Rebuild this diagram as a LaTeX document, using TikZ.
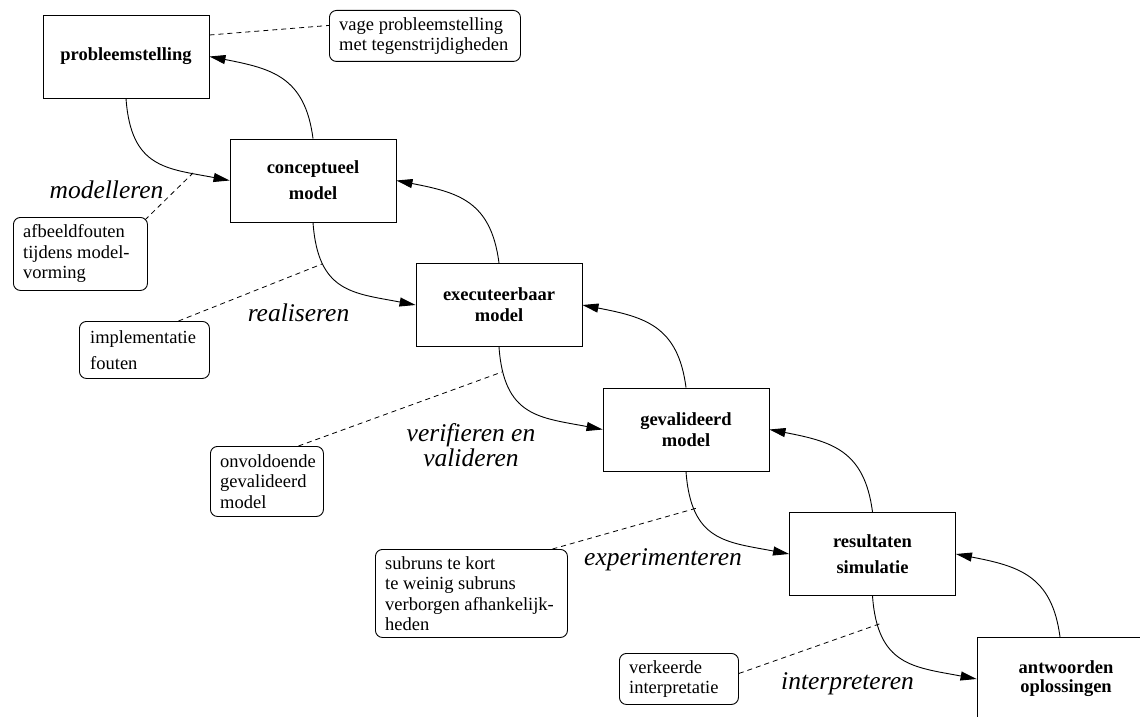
\documentclass[tikz,border=0pt]{standalone}
\usepackage{fontspec}
\setmainfont{Liberation Serif}
\usetikzlibrary{arrows.meta}
\begin{document}
\begin{tikzpicture}[x=1pt,y=-1pt,
  box/.style={draw, line width=0.9pt, minimum width=166pt, minimum height=83pt,
    inner sep=0pt, align=center, font=\fontsize{18.5}{21}\selectfont\bfseries},
  note/.style={draw, rounded corners=7pt, line width=0.9pt, inner sep=0pt, anchor=north west},
  notetext/.style={inner sep=0pt, align=left, anchor=west, font=\fontsize{18.5}{20.5}\selectfont},
  lbl/.style={inner sep=0pt, align=center, font=\fontsize{25.5}{25}\selectfont\itshape},
  flow/.style={line width=0.9pt, -{Triangle[length=16pt,width=9pt]}},
  link/.style={line width=0.8pt, dash pattern=on 5pt off 4pt}]
\useasboundingbox (0,0) rectangle (1140,717);
\clip (0,0) rectangle (1140,717);
\fill[white] (0,0) rectangle (1140,717);

% main boxes
\node[box] (b1) at (126,56.5) {probleemstelling};
\node[box] (b2) at (313,180.5) {conceptueel\\[5pt]model};
\node[box] (b3) at (499,305) {executeerbaar\\model};
\node[box] (b4) at (686,429.5) {gevalideerd\\model};
\node[box] (b5) at (872.5,554) {resultaten\\[5pt]simulatie};
\node[box, minimum width=178pt] (b6) at (1066,679) {antwoorden\\[-2pt]oplossingen};

% forward arrows
\draw[flow] (b1.south) .. controls +(5,70) and +(-63,-12) .. (b2.west);
\draw[flow] (b2.south) .. controls +(5,70) and +(-63,-12) .. (b3.west);
\draw[flow] (b3.south) .. controls +(5,70) and +(-63,-12) .. (b4.west);
\draw[flow] (b4.south) .. controls +(5,70) and +(-63,-12) .. (b5.west);
\draw[flow] (b5.south) .. controls +(5,70) and +(-63,-12) .. (b6.west);

% backward arrows
\draw[flow] (b2.north) .. controls +(-8,-62) and +(62,12) .. (b1.east);
\draw[flow] (b3.north) .. controls +(-8,-62) and +(62,12) .. (b2.east);
\draw[flow] (b4.north) .. controls +(-8,-62) and +(62,12) .. (b3.east);
\draw[flow] (b5.north) .. controls +(-8,-62) and +(62,12) .. (b4.east);
\draw[flow] ([xshift=-6pt]b6.north) .. controls +(-8,-62) and +(62,12) .. (b5.east);

% process labels
\node[lbl] (l1) at (106.5,190) {modelleren};
\node[lbl] (l2) at (298.5,313) {realiseren};
\node[lbl] (l3) at (471,445.5) {verifieren en\\valideren};
\node[lbl] (l4) at (663,560) {experimenteren};
\node[lbl] (l5) at (847.5,684) {interpreteren};

% notes
\node[note, minimum width=191pt, minimum height=51pt] (n1) at (329,10) {};
\node[notetext] (t1) at ([xshift=10pt]n1.west) {vage probleemstelling\\met tegenstrijdigheden};
\node[note, minimum width=134pt, minimum height=73pt] (n2) at (13,217) {};
\node[notetext] (t2) at ([xshift=10pt]n2.west) {afbeeldfouten\\tijdens model-\\vorming};
\node[note, minimum width=130pt, minimum height=57pt] (n3) at (79,321) {};
\node[notetext] (t3) at ([xshift=11pt]n3.west) {implementatie\\[5.5pt]fouten};
\node[note, minimum width=113pt, minimum height=70pt] (n4) at (210,446) {};
\node[notetext] (t4) at ([xshift=10pt]n4.west) {onvoldoende\\gevalideerd\\model};
\node[note, minimum width=192pt, minimum height=88pt] (n5) at (375,549) {};
\node[notetext] (t5) at ([xshift=10pt]n5.west) {subruns te kort\\te weinig subruns\\verborgen afhankelijk-\\heden};
\node[note, minimum width=119pt, minimum height=51pt] (n6) at (619,653) {};
\node[notetext] (t6) at ([xshift=10pt]n6.west) {verkeerde\\interpretatie};

% points on the flow curves where the dashed links end
\coordinate (e2) at (193,173);
\coordinate (e3) at (322,264);
\coordinate (e4) at (502,372);
\coordinate (e5) at (697,508);
\coordinate (e6) at (882,623);

% dashed links
\draw[link] ([yshift=21.5pt]b1.east) -- ([yshift=10.5pt]n1.west);
\draw[link] ([xshift=-3pt,yshift=-3pt]n2.north east) -- (e2);
\draw[link] ([xshift=34pt]n3.north) -- (e3);
\draw[link] ([xshift=31.5pt]n4.north) -- (e4);
\draw[link] ([xshift=81pt]n5.north) -- (e5);
\draw[link] ([yshift=5.5pt]n6.east) -- (e6);
\end{tikzpicture}
\end{document}
